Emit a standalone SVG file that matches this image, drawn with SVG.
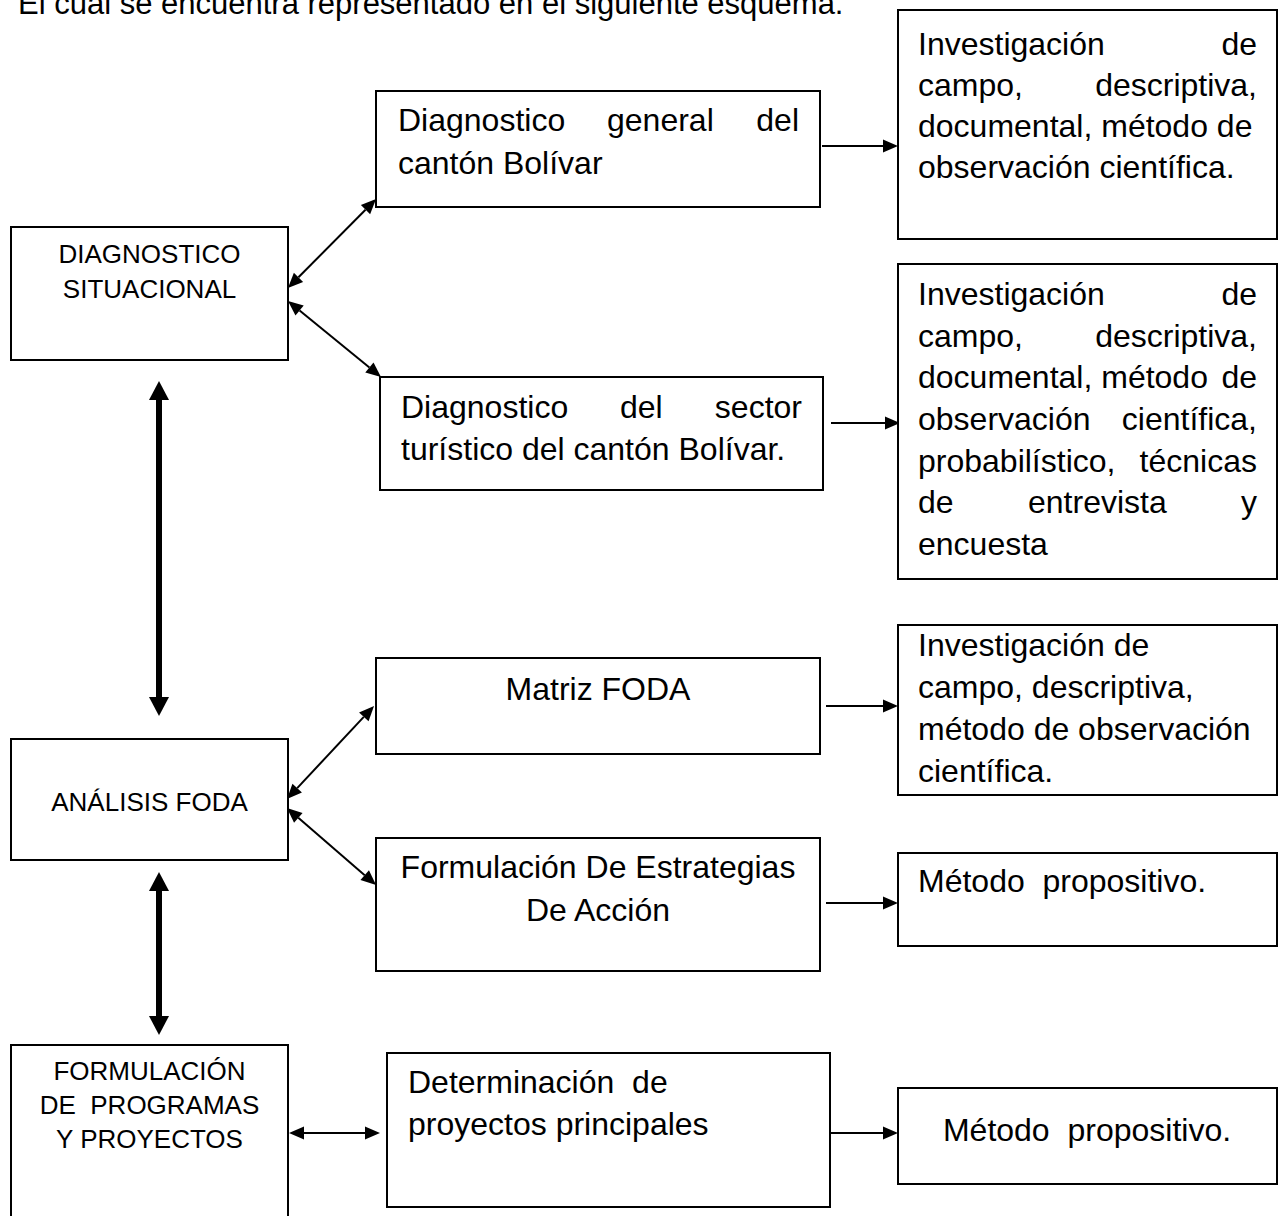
<svg xmlns="http://www.w3.org/2000/svg" width="1282" height="1216" viewBox="0 0 1282 1216">
<style>
.box{fill:#fff;stroke:#000;stroke-width:2}
.t{font-family:"Liberation Sans",Arial,sans-serif;font-size:32px;fill:#000;white-space:pre}
.s{font-family:"Liberation Sans",Arial,sans-serif;font-size:26px;fill:#000;text-anchor:middle;white-space:pre}
.c{text-anchor:middle}
.e{text-anchor:end}
.thin{stroke:#000;stroke-width:2;fill:none;marker-end:url(#ah)}
.thin2{stroke:#000;stroke-width:2;fill:none;marker-end:url(#ah);marker-start:url(#ah)}
.thick{stroke:#000;stroke-width:6;fill:none;marker-end:url(#bh);marker-start:url(#bh)}
</style>
<defs>
<marker id="ah" markerUnits="userSpaceOnUse" markerWidth="18" markerHeight="14" refX="0" refY="6.5" orient="auto-start-reverse" overflow="visible"><path d="M0,0 L15,6.5 L0,13 z" fill="#000"/></marker>
<marker id="bh" markerUnits="userSpaceOnUse" markerWidth="22" markerHeight="22" refX="0" refY="10" orient="auto-start-reverse" overflow="visible"><path d="M0,0 L19,10 L0,20 z" fill="#000"/></marker>
</defs>
<rect width="1282" height="1216" fill="#fff"/>
<text class="t" x="18" y="14" style="font-size:31px">El cual se encuentra representado en el siguiente esquema.</text>

<g id="connectors">
<line class="thin2" x1="298.5" y1="277.3" x2="365.5" y2="209.7"/>
<line class="thin2" x1="299.6" y1="310.5" x2="369.4" y2="367.5"/>
<line class="thin2" x1="297.2" y1="788.1" x2="363.8" y2="716.9"/>
<line class="thin2" x1="298.3" y1="817.8" x2="364.7" y2="875.2"/>
<line class="thin" x1="822" y1="146" x2="883" y2="146"/>
<line class="thin" x1="831" y1="423" x2="885" y2="423"/>
<line class="thin" x1="826" y1="706" x2="883" y2="706"/>
<line class="thin" x1="826" y1="903" x2="883" y2="903"/>
<line class="thin" x1="830" y1="1133" x2="883" y2="1133"/>
<line class="thin2" x1="304" y1="1133" x2="365" y2="1133"/>
<line class="thick" x1="159" y1="400" x2="159" y2="697"/>
<line class="thick" x1="159" y1="891" x2="159" y2="1016"/>
</g>

<g id="diag-situacional">
<rect class="box" x="11" y="227" width="277" height="133"/>
<text class="s" x="149.5" y="263">DIAGNOSTICO</text>
<text class="s" x="149.5" y="298">SITUACIONAL</text>
</g>

<g id="diag-general">
<rect class="box" x="376" y="91" width="444" height="116"/>
<text class="t" y="131"><tspan x="398">Diagnostico</tspan><tspan x="607">general</tspan><tspan x="799" class="e">del</tspan></text>
<text class="t" x="398" y="174">cantón Bolívar</text>
</g>

<g id="metodo-general">
<rect class="box" x="898" y="10" width="379" height="229"/>
<text class="t" y="55"><tspan x="918">Investigación</tspan><tspan x="1257" class="e">de</tspan></text>
<text class="t" y="96"><tspan x="918">campo,</tspan><tspan x="1257" class="e">descriptiva,</tspan></text>
<text class="t" x="918" y="137">documental, método de</text>
<text class="t" x="918" y="178">observación científica.</text>
</g>

<g id="diag-sector">
<rect class="box" x="380" y="377" width="443" height="113"/>
<text class="t" y="418"><tspan x="401">Diagnostico</tspan><tspan x="620">del</tspan><tspan x="802" class="e">sector</tspan></text>
<text class="t" x="401" y="460">turístico del cantón Bolívar.</text>
</g>

<g id="metodo-sector">
<rect class="box" x="898" y="264" width="379" height="315"/>
<text class="t" y="305"><tspan x="918">Investigación</tspan><tspan x="1257" class="e">de</tspan></text>
<text class="t" y="347"><tspan x="918">campo,</tspan><tspan x="1257" class="e">descriptiva,</tspan></text>
<text class="t" y="388"><tspan x="918">documental, método</tspan><tspan x="1257" class="e">de</tspan></text>
<text class="t" y="430"><tspan x="918">observación</tspan><tspan x="1257" class="e">científica,</tspan></text>
<text class="t" y="472"><tspan x="918">probabilístico,</tspan><tspan x="1257" class="e">técnicas</tspan></text>
<text class="t" y="513"><tspan x="918">de</tspan><tspan x="1028">entrevista</tspan><tspan x="1257" class="e">y</tspan></text>
<text class="t" x="918" y="555">encuesta</text>
</g>

<g id="analisis-foda">
<rect class="box" x="11" y="739" width="277" height="121"/>
<text class="s" x="149.5" y="811">ANÁLISIS FODA</text>
</g>

<g id="matriz-foda">
<rect class="box" x="376" y="658" width="444" height="96"/>
<text class="t c" x="598" y="700">Matriz FODA</text>
</g>

<g id="metodo-matriz">
<rect class="box" x="898" y="625" width="379" height="170"/>
<text class="t" x="918" y="656">Investigación de</text>
<text class="t" x="918" y="698">campo, descriptiva,</text>
<text class="t" x="918" y="740">método de observación</text>
<text class="t" x="918" y="782">científica.</text>
</g>

<g id="estrategias">
<rect class="box" x="376" y="838" width="444" height="133"/>
<text class="t c" x="598" y="878">Formulación De Estrategias</text>
<text class="t c" x="598" y="921">De Acción</text>
</g>

<g id="metodo-estrategias">
<rect class="box" x="898" y="853" width="379" height="93"/>
<text class="t" x="918" y="892">Método  propositivo.</text>
</g>

<g id="programas">
<rect class="box" x="11" y="1045" width="277" height="180"/>
<text class="s" x="149.5" y="1080">FORMULACIÓN</text>
<text class="s" x="149.5" y="1114">DE  PROGRAMAS</text>
<text class="s" x="149.5" y="1148">Y PROYECTOS</text>
</g>

<g id="proyectos">
<rect class="box" x="387" y="1053" width="443" height="154"/>
<text class="t" x="408" y="1093">Determinación  de</text>
<text class="t" x="408" y="1135">proyectos principales</text>
</g>

<g id="metodo-proyectos">
<rect class="box" x="898" y="1088" width="379" height="96"/>
<text class="t c" x="1087" y="1141">Método  propositivo.</text>
</g>
</svg>
